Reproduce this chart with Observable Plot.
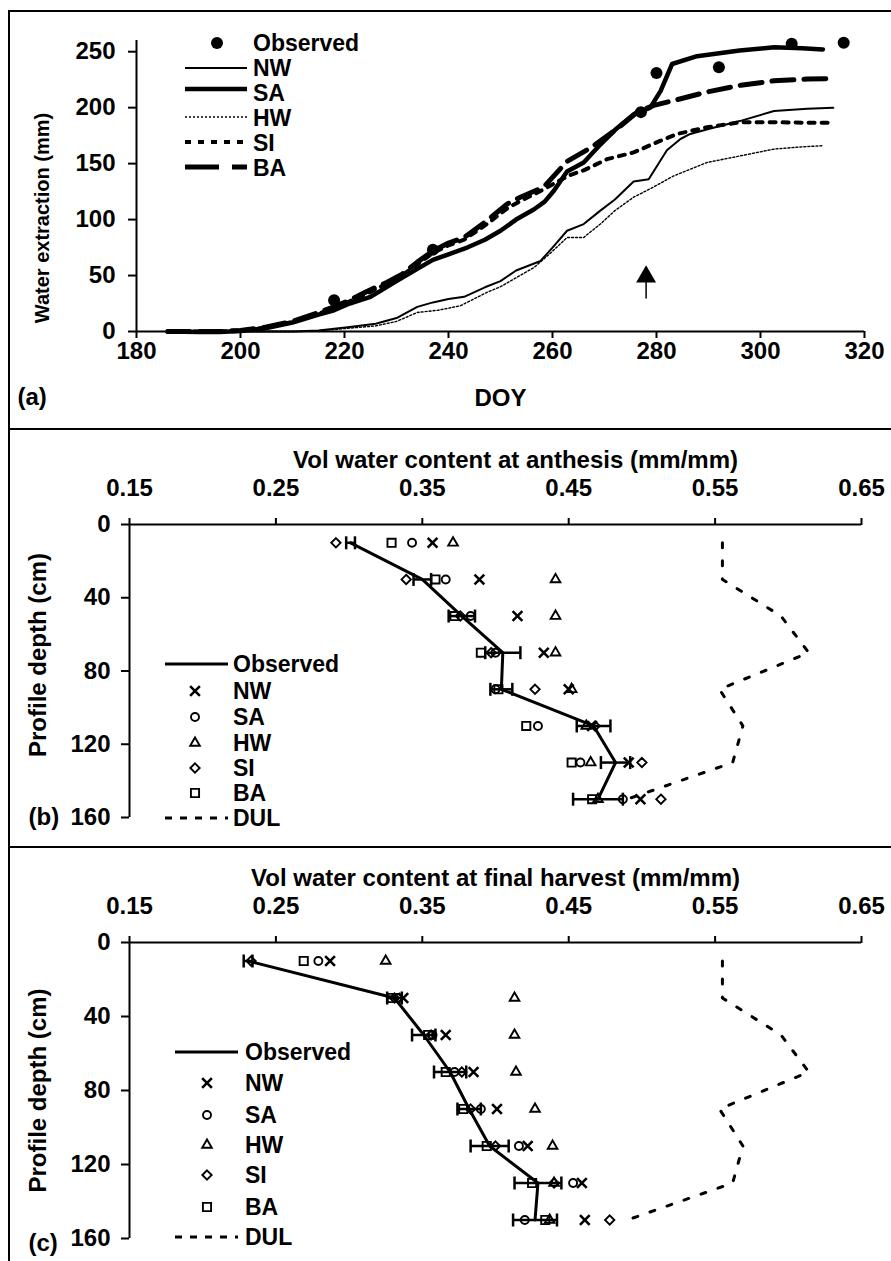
<!DOCTYPE html>
<html>
<head>
<meta charset="utf-8">
<script src="https://cdn.jsdelivr.net/npm/d3@7"></script>
<script src="https://cdn.jsdelivr.net/npm/@observablehq/plot@0.6"></script>
<style>
  html, body { margin: 0; padding: 0; background: #fff; }
  #fig { position: relative; width: 891px; height: 1261px; overflow: hidden; background: #fff; }
  .panel { position: absolute; left: 0; width: 891px; }
  .rule { position: absolute; background: #000; }
</style>
</head>
<body>
<div id="fig">
  <div class="panel" id="pa" style="top:0px"></div>
  <div class="panel" id="pb" style="top:429px"></div>
  <div class="panel" id="pc" style="top:847px"></div>
  <div class="rule" style="left:8px;top:10px;width:883px;height:2px"></div>
  <div class="rule" style="left:8px;top:10px;width:2px;height:1251px"></div>
  <div class="rule" style="left:8px;top:428px;width:883px;height:2px"></div>
  <div class="rule" style="left:8px;top:846px;width:883px;height:2px"></div>
</div>
<script>
const FONT = "'Liberation Sans', Arial, Helvetica, sans-serif";
const INK = "#000";

// ---------------- Panel (a): cumulative water extraction ----------------
const doyTicks = [180, 200, 220, 240, 260, 280, 300, 320];
const extractionTicks = [0, 50, 100, 150, 200, 250];

const doyNW = [186, 210, 215, 221, 226, 230, 234, 237, 240, 243, 247, 250, 253, 257.7, 260, 262.8, 266, 269.2, 272, 275.6, 278.5, 282, 284.6, 286.5, 290, 296, 302.6, 309, 314];
const extNW = [0, 0, 1, 4, 7, 12, 22, 26, 29, 31, 39.5, 45, 54.5, 63, 75, 90, 96, 108, 118, 134, 136, 162, 172, 176.5, 181, 188, 197, 199, 200];

const doySA = [186, 192, 196, 200, 205, 210, 215, 218, 221, 225, 230, 234, 237, 240, 243.6, 247, 250, 253, 256.4, 258.5, 260.3, 262.8, 266, 269.2, 272, 275.6, 278.8, 280.8, 283, 287.8, 296, 302.6, 308, 312];
const extSA = [0, -0.5, -0.5, 0.5, 3, 8, 15, 19, 25, 31, 45, 56, 64, 69, 75, 82, 90, 100, 109, 116, 126, 143, 151, 167, 180, 194, 200, 215, 239, 246, 251, 254, 253, 252];

const doyHW = [186, 212, 216, 221, 226, 230, 234, 238, 242.3, 247.4, 250, 253, 256.4, 259.6, 262.8, 266, 269.2, 272, 275.6, 279, 283.3, 289.7, 296.2, 302.6, 308, 312];
const extHW = [0, 0, 1, 3, 5, 9, 17, 19, 23, 35, 40, 48, 57, 70, 84, 84, 96, 108, 120, 128, 139, 151, 157, 163, 165, 166];

const doySI = [186, 192, 196, 200, 205, 210, 215, 218, 221, 224.4, 228.2, 231, 234, 237, 240, 243, 247.4, 251.3, 254, 258.3, 261, 263.5, 266, 270.5, 275.6, 280.8, 284, 289.7, 296.2, 302.6, 309, 314];
const extSI = [0, 0, 0, 1, 3.5, 8.5, 16, 21, 27, 34, 43, 50, 60, 70, 77, 82, 96, 110, 117, 127, 134, 140, 144, 154, 160, 170.5, 176.5, 182.5, 187, 187, 186.5, 186.5];

const doyBA = [186, 192, 196, 200, 205, 210, 215, 218, 221, 224.4, 228.2, 231, 234, 237, 240, 243, 247.4, 251.3, 253.8, 258.3, 262.8, 267.3, 272.4, 276.3, 279.5, 283, 289.7, 296.2, 302.6, 309, 314];
const extBA = [0, 0, 0, 1, 4, 9, 17, 22, 28, 36, 44, 51, 62, 72, 79, 84, 99, 114, 120, 129, 152, 164, 181, 196, 202, 206, 214, 220, 224, 225.5, 226];

const obsDOY = [218, 237, 277, 280, 292, 306, 316];
const obsExt = [28, 73, 196, 231, 236, 257, 258];

// anthesis arrow (DOY, stem bottom/top and head centre in mm)
const arrowDOY = [278];
const arrowStem = [29, 44];
const arrowHead = [49];

// ---------------- Panels (b) and (c): soil water profiles ----------------
const volTicks = [0.15, 0.25, 0.35, 0.45, 0.55, 0.65];
const depthTicks = [0, 40, 80, 120, 160];
const depths = [10, 30, 50, 70, 90, 110, 130, 150];
const dul = [0.555, 0.555, 0.595, 0.614, 0.553, 0.569, 0.562, 0.49];

// (b) at anthesis
const antObs = [0.301, 0.350, 0.377, 0.405, 0.404, 0.467, 0.482, 0.470];
const antErr = [0.003, 0.006, 0.009, 0.012, 0.0075, 0.0115, 0.010, 0.017];
const antNW = [0.357, 0.389, 0.415, 0.433, 0.450, 0.466, 0.491, 0.499];
const antSA = [0.343, 0.366, 0.383, 0.400, 0.400, 0.429, 0.458, 0.487];
const antHW = [0.371, 0.441, 0.441, 0.441, 0.452, 0.462, 0.465, 0.470];
const antSI = [0.291, 0.339, 0.376, 0.397, 0.427, 0.468, 0.500, 0.513];
const antBA = [0.329, 0.359, 0.372, 0.390, 0.402, 0.421, 0.452, 0.466];

// (c) at final harvest
const harObs = [0.231, 0.331, 0.351, 0.369, 0.382, 0.396, 0.429, 0.427];
const harErr = [0.003, 0.005, 0.008, 0.011, 0.008, 0.013, 0.016, 0.015];
const harNW = [0.287, 0.337, 0.366, 0.385, 0.401, 0.422, 0.459, 0.461];
const harSA = [0.279, 0.333, 0.357, 0.372, 0.390, 0.416, 0.453, 0.420];
const harHW = [0.325, 0.413, 0.413, 0.414, 0.427, 0.439, 0.440, 0.437];
const harSI = [0.233, 0.331, 0.356, 0.377, 0.383, 0.400, 0.440, 0.478];
const harBA = [0.269, 0.329, 0.354, 0.366, 0.378, 0.394, 0.425, 0.434];

// ---------------- styles ----------------
const lineStyleA = {
  NW: {strokeWidth: 2, dash: null},
  SA: {strokeWidth: 4.5, dash: null},
  HW: {strokeWidth: 1.4, dash: "2,2"},
  SI: {strokeWidth: 4, dash: "6,7"},
  BA: {strokeWidth: 5, dash: "22,10"}
};
const symbolStyle = {
  NW: {symbol: "times", r: 4.5, sw: 2.6, d3s: d3.symbolTimes},
  SA: {symbol: "circle", r: 4, sw: 1.9, d3s: d3.symbolCircle},
  HW: {symbol: "triangle2", r: 4.6, sw: 1.9, d3s: d3.symbolTriangle2},
  SI: {symbol: "diamond2", r: 4.2, sw: 1.9, d3s: d3.symbolDiamond2},
  BA: {symbol: "square2", r: 5.2, sw: 1.9, d3s: d3.symbolSquare2}
};
const capSymbol = { draw(ctx) { ctx.moveTo(0, -6.5); ctx.lineTo(0, 6.5); } };

const baseStyle = {fontFamily: FONT, fontSize: "24px", fontWeight: "bold", color: INK, background: "transparent", overflow: "visible"};

// ---------------- Panel (a) ----------------
const seriesA = [
  {name: "HW", doy: doyHW, ext: extHW},
  {name: "NW", doy: doyNW, ext: extNW},
  {name: "SI", doy: doySI, ext: extSI},
  {name: "BA", doy: doyBA, ext: extBA},
  {name: "SA", doy: doySA, ext: extSA}
];
const obsRowsA = obsDOY.map((d, i) => ({doy: d, ext: obsExt[i]}));
const arrowRows = arrowDOY.map((d, i) => ({doy: d, y1: arrowStem[0], y2: arrowStem[1], head: arrowHead[i]}));

const plotA = Plot.plot({
  width: 891, height: 429,
  marginLeft: 136, marginRight: 27, marginTop: 40, marginBottom: 98,
  style: baseStyle,
  x: {domain: [180, 320]},
  y: {domain: [0, 260]},
  marks: [
    Plot.axisX({ticks: doyTicks, tickSize: 7, tickPadding: 3, strokeWidth: 2, label: null}),
    Plot.axisY({ticks: extractionTicks, tickSize: 8, tickPadding: 13, strokeWidth: 2, label: null}),
    Plot.ruleY([0], {strokeWidth: 2}),
    Plot.ruleX([180], {strokeWidth: 2}),
    ...seriesA.map(s => Plot.line(s.doy.map((d, i) => ({doy: d, ext: s.ext[i]})), {
      x: "doy", y: "ext", stroke: INK,
      strokeWidth: lineStyleA[s.name].strokeWidth,
      strokeDasharray: lineStyleA[s.name].dash
    })),
    Plot.dot(obsRowsA, {x: "doy", y: "ext", r: 6, fill: INK, stroke: "none"}),
    Plot.ruleX(arrowRows, {x: "doy", y1: "y1", y2: "y2", strokeWidth: 1.5}),
    Plot.dot(arrowRows, {x: "doy", y: "head", symbol: "triangle", r: 7.4, fill: INK, stroke: "none"}),
    Plot.text(["DOY"], {text: d => d, frameAnchor: "bottom", dy: 67, lineAnchor: "middle", textAnchor: "middle"}),
    Plot.text(["Water extraction (mm)"], {text: d => d, frameAnchor: "left", rotate: -90, dx: -94, dy: 32, fontSize: 20, textAnchor: "middle", lineAnchor: "middle"}),
    Plot.text(["(a)"], {text: d => d, frameAnchor: "bottom-left", dx: -119, dy: 66, textAnchor: "start", lineAnchor: "middle"})
  ]
});
document.getElementById("pa").appendChild(plotA);

function legendText(g, x, y, label) {
  g.append("text").attr("x", x).attr("y", y).attr("dy", "0.35em")
    .attr("text-anchor", "start").style("text-anchor", "start").text(label);
}
function legendGroup(svg) {
  return d3.select(svg).append("g")
    .attr("text-anchor", "start")
    .style("font-family", FONT).style("font-weight", "bold").style("font-size", "23px").style("fill", INK);
}

(function legendA() {
  const g = legendGroup(plotA);
  g.append("circle").attr("cx", 217).attr("cy", 43).attr("r", 6).attr("fill", INK);
  legendText(g, 253, 43, "Observed");
  const rows = [["NW", 68, 68], ["SA", 89, 93], ["HW", 117, 118], ["SI", 142, 143], ["BA", 167, 168]];
  rows.forEach(([name, ly, ty]) => {
    const st = lineStyleA[name];
    g.append("line").attr("x1", 185).attr("x2", 247).attr("y1", ly).attr("y2", ly)
      .attr("stroke", INK).attr("stroke-width", st.strokeWidth)
      .attr("stroke-dasharray", st.dash ? (name === "BA" ? "34,13" : st.dash) : null);
    legendText(g, 253, ty, name);
  });
})();

// ---------------- Panels (b) and (c) ----------------
function profilePanel(el, cfg) {
  const obsRows = depths.map((d, i) => ({depth: d, v: cfg.obs[i], lo: cfg.obs[i] - cfg.err[i], hi: cfg.obs[i] + cfg.err[i]}));
  const dulRows = depths.map((d, i) => ({depth: d, v: dul[i]}));
  const simMarks = cfg.sims.map(s => {
    const st = symbolStyle[s.name];
    return Plot.dot(depths.map((d, i) => ({depth: d, v: s.vals[i]})), {
      x: "v", y: "depth", symbol: st.symbol, r: st.r, fill: "none", stroke: INK, strokeWidth: st.sw
    });
  });
  const svg = Plot.plot({
    width: 891, height: cfg.height,
    marginLeft: 129, marginRight: 30, marginTop: 95, marginBottom: cfg.marginBottom,
    style: baseStyle,
    x: {domain: [0.15, 0.65]},
    y: {domain: [0, 160], reverse: true},
    marks: [
      Plot.axisX({anchor: "top", ticks: volTicks, tickFormat: d3.format(".2f"), tickSize: 7, tickPadding: 22, strokeWidth: 2, label: null}),
      Plot.axisY({ticks: depthTicks, tickSize: 8, tickPadding: 11, strokeWidth: 2, label: null}),
      Plot.ruleY([0], {strokeWidth: 2}),
      Plot.ruleX([0.15], {strokeWidth: 2}),
      Plot.line(dulRows, {x: "v", y: "depth", stroke: INK, strokeWidth: 3, strokeDasharray: "5,13"}),
      ...simMarks,
      Plot.line(obsRows, {x: "v", y: "depth", stroke: INK, strokeWidth: 3}),
      Plot.ruleY(obsRows, {y: "depth", x1: "lo", x2: "hi", strokeWidth: 2.5}),
      Plot.dot(obsRows, {x: "lo", y: "depth", symbol: capSymbol, fill: "none", stroke: INK, strokeWidth: 2.5}),
      Plot.dot(obsRows, {x: "hi", y: "depth", symbol: capSymbol, fill: "none", stroke: INK, strokeWidth: 2.5}),
      Plot.text([cfg.title], {text: d => d, frameAnchor: "top", dx: cfg.titleDx, dy: -64, textAnchor: "middle", lineAnchor: "middle"}),
      Plot.text(["Profile depth (cm)"], {text: d => d, frameAnchor: "left", rotate: -90, dx: -91, dy: cfg.ylabDy, textAnchor: "middle", lineAnchor: "middle"}),
      Plot.text([cfg.tag], {text: d => d, frameAnchor: "bottom-left", dx: -101, dy: cfg.tagDy, textAnchor: "start", lineAnchor: "middle"})
    ]
  });
  el.appendChild(svg);

  // legend
  const L = cfg.legend;
  const g = legendGroup(svg);
  g.append("line").attr("x1", L.x1).attr("x2", L.x2).attr("y1", L.ys[0]).attr("y2", L.ys[0]).attr("stroke", INK).attr("stroke-width", 3);
  legendText(g, L.tx, L.ys[0], "Observed");
  ["NW", "SA", "HW", "SI", "BA"].forEach((name, i) => {
    const st = symbolStyle[name];
    const y = L.ys[i + 1];
    g.append("path").attr("transform", `translate(${L.sx},${y})`)
      .attr("d", d3.symbol(st.d3s, Math.PI * st.r * st.r)())
      .attr("fill", "none").attr("stroke", INK).attr("stroke-width", st.sw);
    legendText(g, L.tx, y, name);
  });
  const yd = L.ys[6];
  g.append("line").attr("x1", L.x1).attr("x2", L.x2).attr("y1", yd).attr("y2", yd).attr("stroke", INK).attr("stroke-width", 3).attr("stroke-dasharray", "7,8");
  legendText(g, L.tx, yd, "DUL");
}

profilePanel(document.getElementById("pb"), {
  height: 418, marginBottom: 30,
  obs: antObs, err: antErr,
  sims: [{name: "NW", vals: antNW}, {name: "SA", vals: antSA}, {name: "HW", vals: antHW}, {name: "SI", vals: antSI}, {name: "BA", vals: antBA}],
  title: "Vol water content at anthesis (mm/mm)", titleDx: 20,
  ylabDy: -16, tag: "(b)", tagDy: 0,
  legend: {x1: 165, x2: 228, sx: 195, tx: 233, ys: [235, 262, 288, 314, 339, 364, 389]}
});

profilePanel(document.getElementById("pc"), {
  height: 414, marginBottom: 23,
  obs: harObs, err: harErr,
  sims: [{name: "NW", vals: harNW}, {name: "SA", vals: harSA}, {name: "HW", vals: harHW}, {name: "SI", vals: harSI}, {name: "BA", vals: harBA}],
  title: "Vol water content at final harvest (mm/mm)", titleDx: 0,
  ylabDy: 0, tag: "(c)", tagDy: 5,
  legend: {x1: 175, x2: 238, sx: 207, tx: 245, ys: [205, 236, 268, 298, 328, 360, 390]}
});
</script>
</body>
</html>
